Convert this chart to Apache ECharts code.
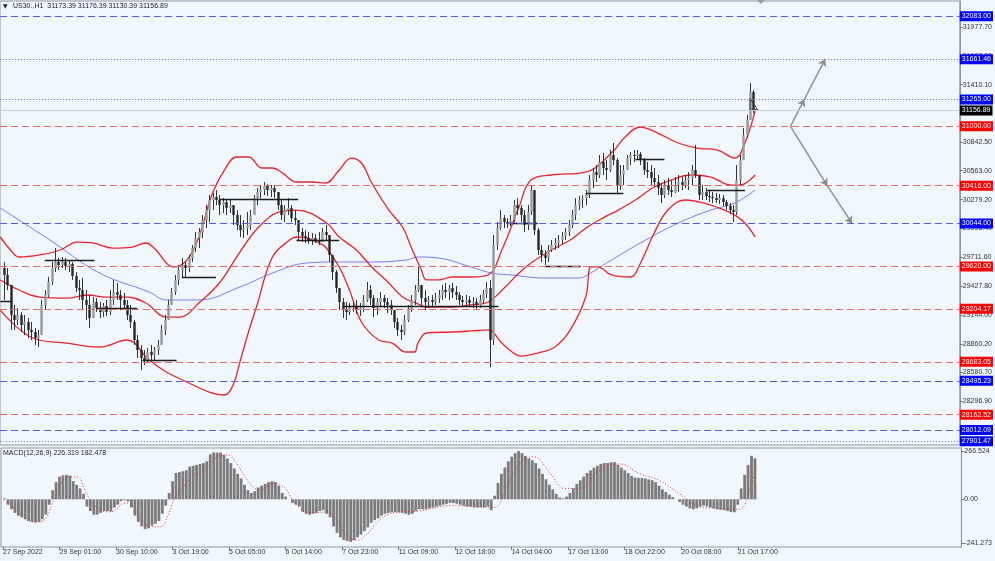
<!DOCTYPE html>
<html><head><meta charset="utf-8">
<script src="https://cdn.jsdelivr.net/npm/echarts@6/dist/echarts.min.js"></script>
<style>html,body{margin:0;padding:0;background:#f0f7fd}#c{width:995px;height:561px}</style>
</head><body><div id="c"></div><script>
// ---------------- DATA ----------------
const symbolTitle = 'US30.,H1';
const headerOHLC = [31173.39, 31176.39, 31130.39, 31156.89];
const macdHeader = [226.319, 182.478];
const timeLabels = ['27 Sep 2022','29 Sep 01:00','30 Sep 10:00','3 Oct 19:00','5 Oct 05:00','6 Oct 14:00','7 Oct 23:00','11 Oct 09:00','12 Oct 18:00','14 Oct 04:00','17 Oct 13:00','18 Oct 22:00','20 Oct 08:00','21 Oct 17:00'];
const timeLabelBars = [0,33,66,99,132,165,198,231,264,297,330,363,396,429];
const priceTicks = [31977.70,31693.90,31410.10,31126.30,30842.50,30563.00,30279.20,29995.40,29711.60,29427.80,29144.00,28860.20,28580.70,28296.90,28013.10];
const macdTicks = [266.524, 0, -241.273];
const firstOpen = 29606;
// two-hour aggregated bars: close / high / low
const C = [29537,29438,29143,29094,29143,29045,29074,28996,28976,28917,
28946,29242,29340,29468,29606,29665,29635,29665,29625,29645,
29527,29409,29389,29291,29242,29114,29271,29212,29173,29232,
29173,29291,29369,29340,29291,29242,29143,29074,28897,28799,
28720,28700,28779,28750,28799,28848,28996,29094,29242,29369,
29488,29586,29635,29606,29704,29802,29901,29960,30078,30176,
30275,30304,30275,30225,30255,30196,30225,30127,30029,29979,
29999,30029,30127,30294,30353,30373,30412,30373,30393,30353,
30225,30127,30176,30196,30097,30078,29960,29920,29901,29881,
29901,29881,29861,29960,29930,29734,29566,29409,29271,29192,
29173,29212,29232,29192,29212,29291,29389,29310,29212,29271,
29310,29271,29242,29192,29074,28996,28976,29094,29192,29291,
29389,29438,29310,29271,29291,29271,29310,29340,29389,29369,
29409,29369,29340,29291,29271,29291,29261,29271,29242,29291,
29350,29409,28897,29832,29999,30097,30058,30038,30078,30225,
30196,30127,30029,30157,30373,29979,29783,29734,29704,29783,
29832,29852,29881,29920,29960,30029,30127,30225,30275,30294,
30324,30471,30550,30521,30649,30590,30570,30718,30668,30422,
30521,30570,30688,30718,30708,30727,30668,30570,30550,30491,
30452,30393,30324,30422,30373,30353,30422,30452,30422,30471,
30491,30570,30521,30324,30353,30314,30304,30294,30275,30294,
30255,30216,30176,30157,30471,30668,30914,31062,31338,31156.89];
const H = [29665,29606,29340,29242,29212,29173,29143,29114,29074,29015,
28996,29291,29389,29517,29665,29802,29704,29714,29704,29684,
29665,29566,29488,29507,29389,29340,29320,29310,29271,29261,
29291,29389,29488,29458,29389,29360,29291,29242,29094,28946,
28848,28799,28818,28848,28828,28897,29045,29143,29291,29409,
29537,29635,29704,29665,29734,29832,29960,29999,30127,30225,
30324,30344,30373,30324,30294,30275,30275,30225,30176,30127,
30078,30157,30176,30324,30393,30422,30452,30432,30422,30422,
30324,30275,30225,30294,30225,30176,30058,29999,29979,29960,
29950,29940,29960,29999,30029,29930,29734,29586,29389,29310,
29271,29261,29271,29291,29261,29340,29468,29438,29340,29310,
29369,29340,29310,29291,29192,29114,29045,29143,29242,29340,
29438,29616,29438,29389,29330,29340,29360,29389,29438,29458,
29438,29458,29429,29369,29330,29340,29330,29320,29310,29340,
29389,29468,29488,29930,30058,30176,30127,30097,30127,30275,
30294,30225,30176,30225,30422,30373,29999,29832,29783,29832,
29881,29901,29930,29960,29999,30078,30176,30294,30314,30324,
30373,30521,30590,30619,30718,30737,30668,30767,30836,30688,
30619,30619,30718,30747,30767,30767,30747,30688,30649,30619,
30590,30521,30442,30471,30491,30471,30501,30521,30501,30521,
30550,30619,30816,30491,30422,30393,30373,30353,30344,30334,
30324,30275,30245,30225,30619,30718,30983,31111,31426,31357];
const L = [29291,29389,28996,28996,29045,28976,28946,28917,28897,28848,
28828,28946,29192,29320,29438,29566,29586,29606,29586,29566,
29488,29369,29291,29192,29094,29015,29173,29173,29114,29123,
29133,29143,29242,29291,29192,29192,29094,29015,28848,28720,
28602,28651,28681,28700,28700,28750,28848,28946,29094,29242,
29340,29438,29507,29517,29566,29665,29763,29802,29901,29999,
30058,30176,30225,30127,30147,30127,30147,30029,29979,29911,
29901,29930,29979,30127,30225,30294,30324,30314,30304,30294,
30176,30078,30058,30127,30058,30029,29881,29861,29852,29842,
29832,29852,29832,29861,29881,29665,29488,29360,29192,29114,
29094,29143,29173,29153,29133,29173,29271,29242,29123,29143,
29232,29212,29163,29143,29015,28937,28897,28946,29074,29173,
29242,29369,29242,29192,29212,29232,29242,29261,29291,29310,
29291,29310,29291,29242,29222,29232,29222,29212,29192,29212,
29261,29310,28631,28848,29783,29979,29999,29999,30019,30058,
30127,30058,29960,29979,30127,29930,29734,29665,29635,29665,
29763,29783,29802,29842,29881,29920,29999,30078,30176,30196,
30225,30294,30393,30452,30491,30521,30471,30550,30619,30344,
30373,30422,30570,30619,30649,30668,30619,30521,30491,30422,
30403,30324,30245,30294,30324,30304,30344,30353,30373,30393,
30373,30422,30491,30275,30275,30275,30255,30245,30245,30235,
30216,30176,30137,30058,30127,30422,30668,30885,31062,31130.39];
// MACD histogram (same two-hour steps)
const M = [5,-30,-55,-75,-90,-100,-110,-120,-125,-128,
-125,-110,-85,-30,50,95,125,132,135,130,
100,80,60,30,-40,-65,-85,-85,-75,-65,
-65,-68,-45,-30,-10,-5,-12,-45,-90,-125,
-150,-165,-160,-145,-135,-120,-80,-35,35,100,
145,150,155,160,180,185,190,195,200,210,
248,258,258,258,245,225,200,170,140,115,
80,50,35,45,65,75,85,95,100,95,
75,35,15,0,-20,-30,-40,-70,-80,-85,
-80,-75,-65,-60,-80,-100,-150,-185,-210,-225,
-230,-235,-225,-210,-195,-175,-155,-130,-115,-105,
-90,-80,-75,-72,-70,-72,-75,-80,-85,-80,
-65,-55,-55,-55,-50,-45,-40,-35,-30,-25,
-20,-20,-25,-30,-35,-40,-40,-45,-45,-45,
-45,-40,-60,20,90,140,175,210,235,255,
266.5,255,240,225,215,200,170,140,110,80,
55,30,10,5,15,35,60,85,105,125,
145,160,175,185,195,200,200,205,205,190,
175,160,145,130,120,118,118,115,110,105,
95,75,55,40,25,12,0,-15,-30,-40,
-50,-55,-50,-40,-35,-40,-45,-50,-55,-58,
-60,-65,-70,-72,-30,60,135,190,240,226];
const macdSignal = [[-1,7],[8,-60],[13,-105],[18,-125],[24,-115],[28,-42],[32,50],[38,123],[44,123],[47,68],[51,-4],[57,-60],[63,-70],[67,-48],[71,-20],[75,-30],[80,-98],[86,-152],[92,-152],[96,-98],[100,0],[104,50],[110,123],[117,160],[125,233],[131,245],[135,217],[140,145],[146,68],[150,50],[158,88],[164,68],[169,0],[175,-60],[183,-75],[189,-70],[195,-115],[201,-208],[207,-225],[213,-187],[218,-132],[224,-87],[232,-70],[243,-65],[261,-35],[278,-40],[287,-45],[293,40],[302,200],[310,235],[319,150],[328,60],[337,60],[348,160],[360,195],[372,140],[383,105],[395,30],[406,-40],[418,-50],[430,-55],[436,60],[440,182]];
const bbUpper = [[-1,29911],[5,29783],[10,29714],[22,29734],[34,29783],[44,29861],[53,29852],[65,29802],[76,29812],[84,29852],[90,29783],[96,29655],[100,29616],[108,29684],[115,29911],[123,30344],[131,30599],[137,30698],[144,30698],[152,30590],[158,30590],[164,30540],[172,30452],[181,30452],[189,30442],[197,30570],[204,30688],[210,30639],[216,30442],[226,30176],[234,30009],[239,29812],[245,29586],[248,29488],[255,29488],[263,29517],[274,29517],[284,29537],[292,29783],[302,30206],[309,30471],[321,30521],[341,30550],[356,30737],[364,30895],[373,30993],[383,30934],[395,30836],[406,30786],[418,30767],[428,30688],[434,30836],[440,31160]];
const bbMiddle = [[-1,29488],[10,29389],[22,29320],[38,29310],[50,29340],[61,29320],[73,29320],[84,29261],[96,29123],[104,29123],[115,29261],[127,29458],[139,29763],[150,30009],[162,30157],[172,30176],[189,30058],[197,29911],[207,29783],[216,29616],[226,29458],[234,29320],[242,29261],[248,29222],[263,29222],[274,29242],[284,29271],[294,29419],[302,29556],[309,29655],[321,29783],[332,29881],[342,30009],[352,30107],[360,30176],[370,30275],[381,30403],[391,30471],[402,30521],[414,30501],[426,30422],[431,30422],[440,30521]];
const bbLower = [[-1,29192],[18,28917],[38,28867],[57,28828],[73,28897],[86,28700],[96,28582],[108,28484],[121,28385],[130,28356],[135,28454],[139,28681],[144,28976],[149,29242],[158,29714],[168,29881],[172,29911],[178,29901],[185,29852],[189,29812],[197,29616],[203,29389],[210,29074],[220,28897],[228,28867],[236,28779],[241,28779],[243,28867],[248,28966],[263,28976],[274,28986],[284,28996],[292,28867],[298,28779],[303,28739],[313,28769],[323,28828],[332,28996],[341,29320],[344,29616],[348,29616],[356,29537],[367,29517],[373,29655],[381,29950],[389,30176],[399,30275],[410,30245],[422,30176],[428,30127],[434,30048],[440,29911]];
const maLine = [[-1,30196],[28,29881],[57,29556],[86,29369],[96,29291],[115,29291],[139,29419],[158,29556],[178,29655],[197,29665],[216,29665],[236,29684],[243,29714],[255,29704],[274,29616],[286,29556],[298,29537],[317,29507],[337,29507],[342,29537],[356,29684],[376,29881],[395,30048],[414,30176],[428,30245],[440,30373]];
const redLevels = [31000.00, 30416.00, 29620.00, 29204.17, 28683.05, 28162.52];
const blueDashLevels = [32083.00, 30044.00, 28495.23, 28012.09];
const blueDotLevels = [31661.46, 31265.00, 27901.47];
const bidLevel = 31156.89;
const supportSegments = [[-1,6,29281],[25,54,29684],[55,79,29212],[82,102,28700],[105,125,29517],[127,173,30285],[172,197,29881],[200,290,29232],[296,313,30048],[317,338,29625],[341,363,30344],[370,387,30678],[412,434,30373]];
const arrowPaths = [[[460.6,31000],[468.7,31265],[480.9,31661.46]],[[460.6,31000],[482.1,30416],[496.6,30044]]];
const triangleShape = [[437,31276],[441.3,31165],[437,31161],[437,31276]];

// ---------------- CHART ----------------
const FONT = '"Liberation Sans", Arial, sans-serif';
const X_MIN = -1.1645, X_MAX = 559.53;
const chart = echarts.init(document.getElementById('c'), null, {renderer:'canvas'});
const candles = C.map((c,k)=>[2*k+1, k ? C[k-1] : firstOpen, c, L[k], H[k]]);
const hist = M.map((v,k)=>[2*k+1, v]);

function renderCandle(params, api){
  const b=api.value(0), o=api.value(1), c=api.value(2), l=api.value(3), h=api.value(4);
  const lo=Math.min(l,o,c), hi=Math.max(h,o,c);
  const pO=api.coord([b,o]), pC=api.coord([b,c]), pL=api.coord([b,lo]), pH=api.coord([b,hi]);
  const x=Math.round(pO[0])+0.5;
  const top=Math.min(pO[1],pC[1]), bh=Math.max(1,Math.abs(pO[1]-pC[1]));
  const up=c>=o;
  return {type:'group', children:[
    {type:'line', shape:{x1:x,y1:pH[1],x2:x,y2:pL[1]}, style:{stroke:'#333', lineWidth:1}},
    {type:'rect', shape:{x:x-1.2,y:top,width:2.4,height:bh}, style:{fill:up?'#999':'#262626'}}
  ]};
}
function renderHist(params, api){
  const b=api.value(0), v=api.value(1);
  const p0=api.coord([b,0]), p1=api.coord([b,v]);
  return {type:'rect', shape:{x:p0[0]-1.4, y:Math.min(p0[1],p1[1]), width:2.8, height:Math.abs(p1[1]-p0[1])}, style:{fill:'#7c7c7c'}};
}
function lvl(v, color, type, bg, width){
  return {yAxis:v, lineStyle:{color:color, type:type, width:width||1}, label:{backgroundColor:bg}};
}
const levelData = [].concat(
  redLevels.map(v=>lvl(v,'#e46a6a',[7,4],'#ff0000')),
  blueDashLevels.map(v=>lvl(v,'#5a5ae0',[7,4],'#0000ff')),
  blueDotLevels.map(v=>lvl(v,'#6f6ff0',[1,2],'#0000ff')),
  [lvl(bidLevel,'#c5ced8','solid','#000000')]
);
const segData = supportSegments.map(s=>({coords:[[s[0],s[2]],[s[1],s[2]]]}));
const arrowData = [];
arrowPaths.forEach(p=>{ for(let i=0;i<p.length-1;i++) arrowData.push({coords:[p[i],p[i+1]]}); });

const option = {
  backgroundColor:'#f0f7fd',
  animation:false,
  textStyle:{fontFamily:FONT},
  grid:[
    {left:0, top:1, width:963, height:444, show:true, borderColor:'#8f959c', borderWidth:1, backgroundColor:'transparent'},
    {left:0, top:448, width:963, height:99, show:true, borderColor:'#8f959c', borderWidth:1, backgroundColor:'transparent'}
  ],
  xAxis:[
    {type:'value', gridIndex:0, min:X_MIN, max:X_MAX, show:false, axisLine:{onZero:false}},
    {type:'value', gridIndex:1, min:X_MIN, max:X_MAX, splitLine:{show:false}, position:'bottom',
     axisLine:{show:false, onZero:false},
     axisTick:{show:true, customValues:timeLabelBars, length:3, lineStyle:{color:'#777'}},
     axisLabel:{customValues:timeLabelBars, formatter:v=>timeLabels[timeLabelBars.indexOf(Math.round(v))]||'', fontSize:7, color:'#333', align:'left', margin:2, fontFamily:FONT}}
  ],
  yAxis:[
    {type:'value', gridIndex:0, position:'right', min:27863.7, max:32233.6, splitLine:{show:false},
     axisLine:{show:true, onZero:false, lineStyle:{color:'#8f959c'}},
     axisTick:{show:true, customValues:priceTicks, length:3, lineStyle:{color:'#777'}},
     axisLabel:{customValues:priceTicks, formatter:v=>Number(v).toFixed(2), fontSize:7, color:'#333', margin:3, fontFamily:FONT}},
    {type:'value', gridIndex:1, position:'right', min:-263.35, max:283.08, splitLine:{show:false},
     axisLine:{show:true, onZero:false, lineStyle:{color:'#8f959c'}},
     axisTick:{show:true, customValues:macdTicks, length:3, lineStyle:{color:'#777'}},
     axisLabel:{customValues:macdTicks, formatter:v=>(v===0?'0.00':String(v)), fontSize:7, color:'#333', margin:3, fontFamily:FONT}}
  ],
  graphic:[
    {type:'text', left:3, top:3, style:{text:'▼', fontSize:6, fill:'#222', fontFamily:'DejaVu Sans'}},
    {type:'text', left:13, top:3, style:{text:symbolTitle+'  '+headerOHLC.map(v=>v.toFixed(2)).join(' '), fontSize:7, fill:'#222', fontFamily:FONT}},
    {type:'text', left:3, top:450, style:{text:'MACD(12,26,9) '+macdHeader.map(v=>v.toFixed(3)).join(' '), fontSize:7, fill:'#222', fontFamily:FONT}},
    {type:'polygon', shape:{points:[[757,0],[765,0],[761,4]]}, style:{fill:'#9aa0a8'}}
  ],
  series:[
    {type:'line', name:'levels', xAxisIndex:0, yAxisIndex:0, data:[], z:1,
     markLine:{silent:true, symbol:['none','none'], animation:false,
       label:{show:true, position:'end', distance:0, formatter:p=>Number(p.value).toFixed(2), fontSize:7, color:'#fff', padding:[2,2,1,2], fontFamily:FONT},
       data:levelData}},
    {type:'line', name:'MA', xAxisIndex:0, yAxisIndex:0, data:maLine, smooth:0.4, showSymbol:false, lineStyle:{color:'#7b7bf4', width:1}, z:2},
    {type:'line', name:'BBU', xAxisIndex:0, yAxisIndex:0, data:bbUpper, smooth:0.4, showSymbol:false, lineStyle:{color:'#e8242c', width:1.3}, z:2},
    {type:'line', name:'BBM', xAxisIndex:0, yAxisIndex:0, data:bbMiddle, smooth:0.4, showSymbol:false, lineStyle:{color:'#e8242c', width:1.3}, z:2},
    {type:'line', name:'BBL', xAxisIndex:0, yAxisIndex:0, data:bbLower, smooth:0.4, showSymbol:false, lineStyle:{color:'#e8242c', width:1.3}, z:2},
    {type:'custom', name:'price', xAxisIndex:0, yAxisIndex:0, data:candles, encode:{x:0, y:[1,2,3,4]}, renderItem:renderCandle, z:3},
    {type:'lines', name:'segments', coordinateSystem:'cartesian2d', xAxisIndex:0, yAxisIndex:0, data:segData, lineStyle:{color:'#1e1e1e', width:1.3, opacity:1}, z:4},
    {type:'lines', name:'arrows', coordinateSystem:'cartesian2d', xAxisIndex:0, yAxisIndex:0, data:arrowData, symbol:['none','arrow'], symbolSize:7, lineStyle:{color:'#8c8c8c', width:1.4, opacity:1}, z:4},
    {type:'line', name:'triangle', xAxisIndex:0, yAxisIndex:0, data:triangleShape, showSymbol:false, lineStyle:{color:'#333', width:1}, z:4},
    {type:'custom', name:'hist', xAxisIndex:1, yAxisIndex:1, data:hist, encode:{x:0, y:1}, renderItem:renderHist, z:2},
    {type:'line', name:'signal', xAxisIndex:1, yAxisIndex:1, data:macdSignal, smooth:0.4, showSymbol:false, lineStyle:{color:'#e03030', width:1, type:[1,2]}, z:3}
  ]
};
chart.setOption(option);
</script></body></html>
